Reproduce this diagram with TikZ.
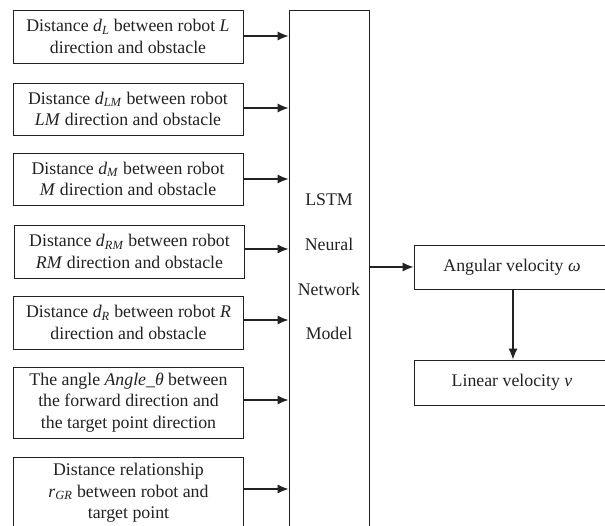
\documentclass[tikz,border=0pt]{standalone}
\usepackage{fontspec}
\setmainfont{Liberation Serif}
\usetikzlibrary{arrows.meta}
\newcommand\mysub[2]{\textit{#1}\textsubscript{\textit{#2}}}
\definecolor{ink}{HTML}{222222}
\tikzset{
  inbox/.style={draw=ink, line width=0.9pt, minimum width=230pt, align=center, inner sep=0pt,
    font=\fontsize{17.8}{21.5}\selectfont, text=ink},
  outbox/.style={draw=ink, line width=0.9pt, minimum width=196pt, minimum height=44pt, inner sep=0pt,
    font=\fontsize{17.8}{21.5}\selectfont, text=ink},
  arr/.style={draw=ink, line width=1.1pt, -{Latex[length=11pt,width=9pt]}}
}
\begin{document}
\begin{tikzpicture}[x=1pt,y=-1pt]
\useasboundingbox (0,0) rectangle (605,526);
\clip (0,0) rectangle (605,526);
\node[inbox, minimum height=53pt] (b1) at (128,36.5) {Distance \mysub{d}{L} between robot \textit{L}\\direction and obstacle};
\node[inbox, minimum height=52pt] (b2) at (128,109) {Distance \mysub{d}{LM} between robot\\\textit{LM} direction and obstacle};
\node[inbox, minimum height=52pt] (b3) at (128,179) {Distance \mysub{d}{M} between robot\\\textit{M} direction and obstacle};
\node[inbox, minimum height=53pt] (b4) at (129.5,251.5) {Distance \mysub{d}{RM} between robot\\\textit{RM} direction and obstacle};
\node[inbox, minimum height=53pt] (b5) at (128.5,322.5) {Distance \mysub{d}{R} between robot \textit{R}\\direction and obstacle};
\node[inbox, minimum height=71pt] (b6) at (128.5,402.5) {The angle \textit{Angle\_θ} between\\the forward direction and\\the target point direction};
\node[inbox, minimum height=72pt] (b7) at (128.5,493) {Distance relationship\\\mysub{r}{GR} between robot and\\target point};
\node[draw=ink, line width=0.9pt, minimum width=80pt, minimum height=540pt, inner sep=0pt] (lstm) at (329,280) {};
\node[align=center, text=ink, font=\fontsize{17.8}{44.7}\selectfont] (lstmtext) at (329,267) {LSTM\\Neural\\Network\\Model};
\node[outbox] (ang) at (512,267) {Angular velocity \textit{ω}};
\node[outbox, minimum height=45pt] (lin) at (512,382.5) {Linear velocity \textit{v}};
\foreach \b/\y in {b1/36,b2/108,b3/179,b4/249,b5/320,b6/400,b7/489}{
  \draw[arr] (\b.east |- 0,\y) -- (lstm.west |- 0,\y);
}
\draw[arr] (lstm.east |- ang.west) -- (ang.west);
\draw[arr] (ang.south -| 513,0) -- (lin.north -| 513,0);
\end{tikzpicture}
\end{document}
